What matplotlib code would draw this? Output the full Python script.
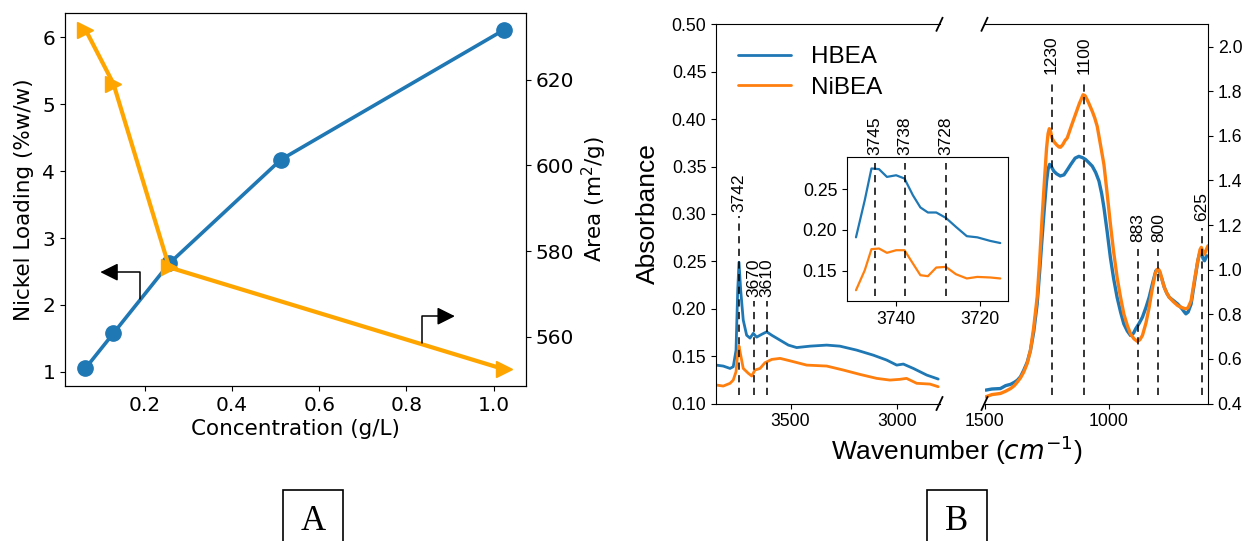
import matplotlib
matplotlib.use("Agg")
import matplotlib.pyplot as plt
from matplotlib.patches import Rectangle

# ---------------- Panel A data ----------------
concentration = [0.064, 0.128, 0.256, 0.512, 1.024]
nickel_loading = [1.055, 1.577, 2.62, 4.17, 6.11]
area_concentration = [0.064, 0.128, 0.256, 1.024]
surface_area = [631.7, 619.1, 576.2, 552.4]
a_xticks = [0.2, 0.4, 0.6, 0.8, 1.0]
a_yticks_left = [1, 2, 3, 4, 5, 6]
a_yticks_right = [560, 580, 600, 620]

# ---------------- Panel B data ----------------
# high wavenumber region (left y-axis)
wn_high_hbea = [3850, 3816, 3784, 3769, 3756, 3748, 3742, 3734, 3722, 3706, 3690, 3675,
                3659, 3635, 3612, 3588, 3549, 3510, 3471, 3408, 3330, 3268, 3189, 3111,
                3048, 3001, 2970, 2923, 2860, 2806]
hbea_high = [0.1405, 0.1395, 0.137, 0.1388, 0.156, 0.2195, 0.249, 0.2195, 0.188, 0.172,
             0.169, 0.174, 0.170, 0.173, 0.1756, 0.172, 0.1668, 0.1616, 0.159, 0.1605,
             0.1616, 0.1605, 0.1563, 0.151, 0.1458, 0.1405, 0.1416, 0.137, 0.130, 0.1258]
wn_high_nibea = [3850, 3816, 3784, 3769, 3756, 3748, 3742, 3734, 3722, 3698, 3682, 3667,
                 3643, 3620, 3588, 3549, 3502, 3424, 3330, 3252, 3174, 3095, 3033, 2986,
                 2955, 2907, 2845, 2806]
nibea_high = [0.1195, 0.1184, 0.1213, 0.1247, 0.1335, 0.153, 0.1605, 0.151, 0.137, 0.1318,
              0.129, 0.1353, 0.137, 0.143, 0.1465, 0.1476, 0.145, 0.1405, 0.1395, 0.1353,
              0.1307, 0.1265, 0.1247, 0.1255, 0.1265, 0.1213, 0.1205, 0.1177]

# low wavenumber region (right y-axis)
wn_low_hbea = [1495, 1470, 1436, 1415, 1395, 1380, 1368, 1355, 1342, 1328, 1315, 1302,
               1288, 1278, 1268, 1258, 1250, 1244, 1238, 1232, 1225, 1221, 1210, 1195,
               1180, 1165, 1153, 1135, 1120, 1105, 1093, 1080, 1066, 1052, 1039, 1028,
               1019, 1006, 993, 980, 966, 952, 939, 925, 912, 900, 891, 877, 864, 850,
               837, 823, 810, 803, 797, 786, 776, 766, 756, 740, 722, 705, 695, 689, 680,
               668, 655, 641, 632, 627, 620, 614, 605]
hbea_low = [0.46, 0.465, 0.467, 0.48, 0.486, 0.495, 0.504, 0.52, 0.549, 0.585, 0.638,
            0.72, 0.846, 0.99, 1.144, 1.29, 1.397, 1.45, 1.472, 1.465, 1.45, 1.442, 1.43,
            1.42, 1.425, 1.45, 1.471, 1.50, 1.508, 1.502, 1.494, 1.48, 1.464, 1.435,
            1.397, 1.34, 1.278, 1.17, 1.054, 0.96, 0.876, 0.81, 0.757, 0.725, 0.705,
            0.715, 0.735, 0.76, 0.787, 0.83, 0.876, 0.94, 0.995, 1.0, 0.995, 0.96, 0.921,
            0.895, 0.876, 0.862, 0.846, 0.825, 0.81, 0.802, 0.81, 0.846, 0.94, 1.04,
            1.08, 1.08, 1.05, 1.04, 1.062]
wn_low_nibea = [1495, 1470, 1436, 1415, 1395, 1380, 1368, 1355, 1342, 1328, 1315, 1302,
                1288, 1278, 1268, 1258, 1250, 1244, 1239, 1234, 1228, 1221, 1210, 1200,
                1194, 1185, 1175, 1167, 1150, 1134, 1118, 1103, 1095, 1088, 1080, 1066,
                1056, 1046, 1033, 1019, 1006, 993, 980, 966, 952, 939, 925, 912, 898,
                885, 875, 864, 850, 837, 825, 813, 806, 800, 793, 785, 776, 766, 756, 740,
                722, 705, 695, 689, 680, 668, 655, 641, 632, 627, 620, 614, 607, 600]
nibea_low = [0.43, 0.44, 0.445, 0.455, 0.467, 0.48, 0.496, 0.515, 0.541, 0.58, 0.638,
             0.74, 0.876, 1.04, 1.233, 1.41, 1.546, 1.61, 1.632, 1.62, 1.59, 1.575, 1.56,
             1.55, 1.549, 1.56, 1.58, 1.59, 1.645, 1.695, 1.745, 1.784, 1.78, 1.765,
             1.746, 1.71, 1.68, 1.642, 1.56, 1.471, 1.34, 1.204, 1.08, 0.965, 0.875,
             0.802, 0.75, 0.712, 0.69, 0.679, 0.685, 0.705, 0.76, 0.831, 0.91, 0.98, 1.0,
             1.003, 0.99, 0.955, 0.921, 0.895, 0.876, 0.857, 0.839, 0.83, 0.826, 0.824,
             0.83, 0.861, 0.95, 1.04, 1.09, 1.1, 1.08, 1.07, 1.09, 1.107]

# inset (zoom on the 3742 band)
wn_inset = [3749.6, 3747.5, 3745.9, 3744.1, 3742.2, 3740.0, 3738.0, 3736.0, 3734.2,
            3732.4, 3730.4, 3728.1, 3725.7, 3723.1, 3720.6, 3717.5, 3715.1]
hbea_inset = [0.191, 0.2365, 0.2753, 0.2745, 0.265, 0.267, 0.263, 0.2426, 0.2276,
              0.2214, 0.2214, 0.2148, 0.2038, 0.1924, 0.191, 0.1866, 0.184]
nibea_inset = [0.1262, 0.1507, 0.1765, 0.1773, 0.172, 0.1752, 0.1752, 0.159, 0.1446,
               0.1434, 0.154, 0.1548, 0.1458, 0.1406, 0.1425, 0.1418, 0.1406]

peaks_high = [3742, 3670, 3610]
peaks_high_top = [0.2975, 0.208, 0.208]
peaks_low = [1230, 1100, 883, 800, 625]
peaks_low_top = [1.845, 1.845, 1.092, 1.092, 1.188]
peaks_inset = [3745, 3738, 3728]

BLUE = "#1f77b4"
ORANGE_B = "#ff7f0e"
ORANGE_A = "#FFA500"

W, H = 1247, 541
fig = plt.figure(figsize=(W / 100, H / 100), dpi=100)


def box(l, t, r, b):
    return [l / W, 1 - b / H, (r - l) / W, (b - t) / H]


# ================= Panel A =================
axA = fig.add_axes(box(65, 13, 526, 386))
axA2 = axA.twinx()
axA.plot(concentration, nickel_loading, "o-", color=BLUE, lw=2.6, ms=11)
axA2.plot(area_concentration, surface_area, ">-", color=ORANGE_A, lw=3, ms=11)
axA.set_xlim(0.017, 1.074)
axA.set_ylim(0.79, 6.36)
axA2.set_ylim(548.5, 635.6)
axA.set_xticks(a_xticks)
axA.set_yticks(a_yticks_left)
axA2.set_yticks(a_yticks_right)
for ax in (axA, axA2):
    ax.tick_params(labelsize=14.5)
axA.set_xlabel("Concentration (g/L)", fontsize=15.5, labelpad=3)
axA.set_ylabel("Nickel Loading (%w/w)", fontsize=15.5, labelpad=6)
axA2.set_ylabel("Area (m$^2$/g)", fontsize=15.5, labelpad=4)

arrow_kw = dict(arrowstyle="-|>", color="black", lw=1.1, mutation_scale=27,
                shrinkA=0, shrinkB=0,
                connectionstyle="angle,angleA=90,angleB=0,rad=0")
axA.annotate("", xy=(0.098, 2.49), xytext=(0.188, 2.09), arrowprops=arrow_kw)
axA2.annotate("", xy=(0.911, 564.8), xytext=(0.835, 558.5), arrowprops=arrow_kw)

# ================= Panel B =================
BF = "Liberation Sans"
axL = fig.add_axes(box(716, 24.3, 939.5, 403.5))
axR = fig.add_axes(box(984.5, 24.3, 1208, 403.5))

lkw = dict(solid_joinstyle="round", solid_capstyle="round")
axL.plot(wn_high_hbea, hbea_high, color=BLUE, lw=2.0, label="HBEA", **lkw)
axL.plot(wn_high_nibea, nibea_high, color=ORANGE_B, lw=2.0, label="NiBEA", **lkw)
axR.plot(wn_low_hbea, hbea_low, color=BLUE, lw=2.4, **lkw)
axR.plot(wn_low_nibea, nibea_low, color=ORANGE_B, lw=2.4, **lkw)

axL.set_xlim(3850, 2800)
axL.set_ylim(0.10, 0.50)
axR.set_xlim(1500, 600)
axR.set_ylim(0.4, 2.1)
axL.set_xticks([3500, 3000])
axR.set_xticks([1500, 1000])
axL.set_yticks([0.10, 0.15, 0.20, 0.25, 0.30, 0.35, 0.40, 0.45, 0.50])
axL.set_yticklabels([f"{v:.2f}" for v in axL.get_yticks()])
axR.set_yticks([0.4, 0.6, 0.8, 1.0, 1.2, 1.4, 1.6, 1.8, 2.0])
axR.set_yticklabels([f"{v:.1f}" for v in axR.get_yticks()])
axR.yaxis.tick_right()
axL.spines["right"].set_visible(False)
axR.spines["left"].set_visible(False)
for ax in (axL, axR):
    ax.tick_params(labelsize=12.7)
    for lab in ax.get_xticklabels() + ax.get_yticklabels():
        lab.set_family(BF)

# break marks
dx, dy = 0.0134, 0.017
for ax, xpos in ((axL, 1.0), (axR, 0.0)):
    for ypos in (0.0, 1.0):
        ax.plot([xpos - dx, xpos + dx], [ypos - dy, ypos + dy], transform=ax.transAxes,
                color="black", lw=1.3, clip_on=False)

vkw = dict(colors="black", linestyles=(0, (4, 3)), lw=1.3, alpha=0.85)
axL.vlines(peaks_high, 0.109, peaks_high_top, **vkw)
for p, t in zip(peaks_high, peaks_high_top):
    axL.text(p, t + 0.004, str(p), rotation=90, ha="center", va="bottom",
             fontsize=12.5, family=BF)
axR.vlines(peaks_low, 0.437, peaks_low_top, **vkw)
for p, t in zip(peaks_low, peaks_low_top):
    axR.text(p, t + 0.03, str(p), rotation=90, ha="center", va="bottom",
             fontsize=12.5, family=BF)

leg = axL.legend(loc="upper left", frameon=False, prop={"family": BF, "size": 17.5},
                 handlelength=2.2, labelspacing=0.35)

axL.set_ylabel("Absorbance", fontsize=19, family=BF, labelpad=8)
fig.text((824 + 1090) / 2 / W, 1 - 450 / H, "Wavenumber ($cm^{-1}$)", fontsize=19,
         family=BF, ha="center", va="center")

# inset
axI = fig.add_axes(box(847, 157.3, 1008, 301))
axI.set_zorder(5)
axI.plot(wn_inset, hbea_inset, color=BLUE, lw=1.6, **lkw)
axI.plot(wn_inset, nibea_inset, color=ORANGE_B, lw=1.6, **lkw)
axI.set_xlim(3751.75, 3713.25)
axI.set_ylim(0.113, 0.289)
axI.set_xticks([3740, 3720])
axI.set_yticks([0.15, 0.20, 0.25])
axI.set_yticklabels(["0.15", "0.20", "0.25"])
axI.tick_params(labelsize=12.7)
for lab in axI.get_xticklabels() + axI.get_yticklabels():
    lab.set_family(BF)
axI.vlines(peaks_inset, 0.119, 0.2815, **vkw)
for p in peaks_inset:
    axI.text(p, 0.2915, str(p), rotation=90, ha="center", va="bottom", fontsize=12.5,
             family=BF, clip_on=False)

# ================= panel letters =================
for l, r, letter in ((283, 343, "A"), (927, 987, "B")):
    fig.patches.append(Rectangle((l / W, -0.05), (r - l) / W, 0.05 + 1 - 490 / H,
                                 transform=fig.transFigure, fill=False,
                                 edgecolor="black", lw=1.2))
    fig.text((l + r) / 2 / W, 1 - 521 / H, letter, fontsize=25,
             family="Liberation Serif", ha="center", va="center")

fig.savefig("out.png", dpi=100)
